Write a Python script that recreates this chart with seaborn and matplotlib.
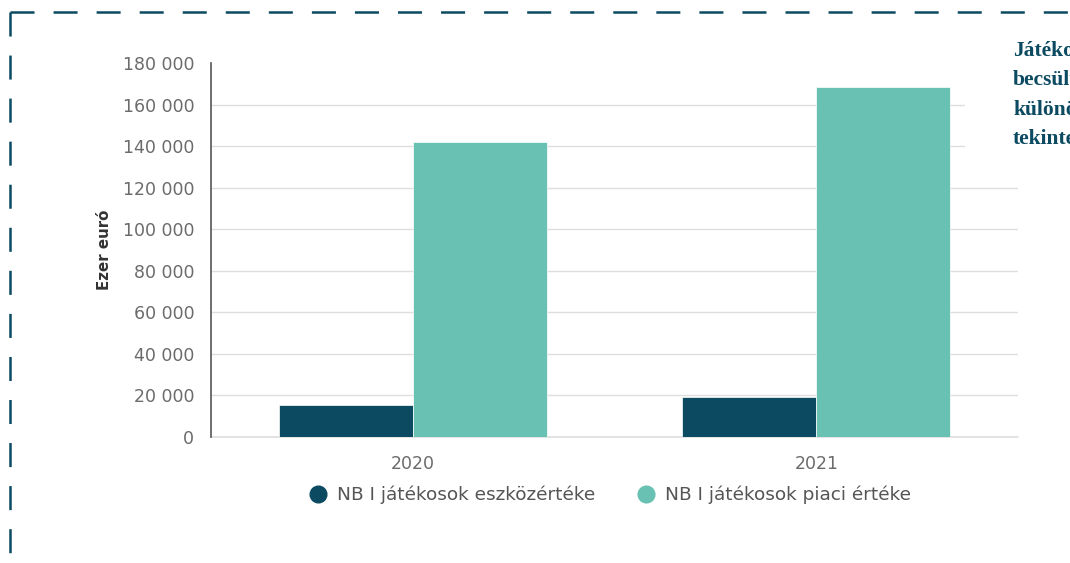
import matplotlib
matplotlib.use("Agg")
import matplotlib.pyplot as plt
from matplotlib.lines import Line2D
from matplotlib.patches import Rectangle
from matplotlib.ticker import FuncFormatter
import pandas as pd
import seaborn as sns

# Data (thousand euro)
years = ["2020", "2021"]
series_names = ["NB I játékosok eszközértéke", "NB I játékosok piaci értéke"]
asset_value = [15400, 19100]
market_value = [142000, 168600]
y_ticks = [0, 20000, 40000, 60000, 80000, 100000, 120000, 140000, 160000, 180000]
side_text = ["Játékosok", "becsült", "különösen", "tekintettel"]

colors = ["#0b4a61", "#68c1b2"]
border_color = "#0b4a61"

sns.set_theme(style="white")
plt.rcParams["font.family"] = ["DejaVu Sans"]

df = pd.DataFrame({
    "year": years * 2,
    "value": asset_value + market_value,
    "series": [series_names[0]] * 2 + [series_names[1]] * 2,
})

W, H = 1070, 563
fig = plt.figure(figsize=(W / 100, H / 100), dpi=100)
ax = fig.add_axes([211 / W, 1 - 437 / H, (1018 - 211) / W, (437 - 63) / H])

sns.barplot(data=df, x="year", y="value", hue="series", palette=colors,
            width=0.665, gap=0, ax=ax, legend=False, saturation=1,
            edgecolor="white", linewidth=0.5, zorder=3)

ax.set_xlim(-0.5, 1.5)
ax.set_ylim(0, 180000)
ax.set_yticks(y_ticks)
ax.yaxis.set_major_formatter(FuncFormatter(lambda v, p: f"{int(v):,}".replace(",", " ")))
ax.grid(axis="y", color="#dedede", linewidth=1, zorder=0)
ax.grid(axis="x", visible=False)
gl = ax.yaxis.get_gridlines()
gl[-1].set_visible(False)
ax.axhline(0, color="#dedede", linewidth=1.2, zorder=1, clip_on=False)
for s in ["top", "right", "bottom"]:
    ax.spines[s].set_visible(False)
ax.spines["left"].set_color("#555555")
ax.spines["left"].set_linewidth(1.2)
ax.tick_params(axis="both", length=0, labelsize=12.5, labelcolor="#6b6b6b")
ax.tick_params(axis="y", pad=12)
ax.tick_params(axis="x", pad=13)
ax.set_xlabel("")
ax.set_ylabel("Ezer euró", fontsize=10.8, fontweight="bold", color="#333333", labelpad=8)

handles = [Line2D([0], [0], marker="o", linestyle="none", markersize=12,
                  markerfacecolor=c, markeredgecolor=c) for c in colors]
fig.legend(handles, series_names, loc="center", bbox_to_anchor=(0.570, 1 - 495 / H),
           ncol=2, frameon=False, fontsize=13.3, labelcolor="#555555",
           handlelength=0.95, handletextpad=0.55, columnspacing=2.3)

# white panel behind the side note, covering the right-hand grid ends
fig.patches.append(Rectangle((965 / W, 1 - 158 / H), (W - 965) / W, (158 - 30) / H,
                             transform=fig.transFigure, facecolor="white",
                             edgecolor="none", zorder=5))
fig.text(1013 / W, 1 - 41 / H, "\n".join(side_text), ha="left", va="top",
         fontsize=15.5, fontweight="bold", color=border_color,
         family=["Liberation Serif", "DejaVu Serif"], linespacing=1.62, zorder=6)

# dashed frame
lw = 1.8
dash = (0, (17.3 / lw, 13.7 / lw))
fig.add_artist(Line2D([10 / W, 1.0], [1 - 12 / H, 1 - 12 / H], transform=fig.transFigure,
                      color=border_color, linewidth=lw, linestyle=dash))
fig.add_artist(Line2D([10 / W, 10 / W], [1 - 12 / H, 0.0], transform=fig.transFigure,
                      color=border_color, linewidth=lw, linestyle=dash))

fig.savefig("out.png", dpi=100)
